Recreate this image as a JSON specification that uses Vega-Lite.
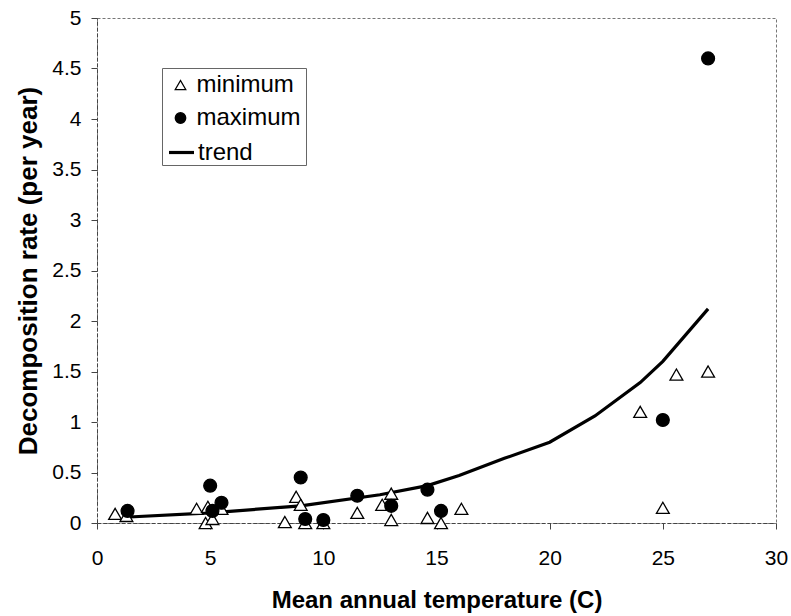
{
  "$schema": "https://vega.github.io/schema/vega-lite/v6.json",
  "width": 679,
  "height": 505,
  "autosize": "none",
  "padding": {"left": 97, "top": 18, "right": 15, "bottom": 93},
  "background": "white",
  "config": {
    "font": "Liberation Sans",
    "view": {"stroke": "#777", "strokeDash": [3, 2], "strokeWidth": 1}
  },
  "data": {
    "values": [
      {"temp": 0.8, "rate": 0.09, "series": "minimum"},
      {"temp": 1.3, "rate": 0.07, "series": "minimum"},
      {"temp": 4.4, "rate": 0.14, "series": "minimum"},
      {"temp": 4.8, "rate": 0.0, "series": "minimum"},
      {"temp": 4.9, "rate": 0.16, "series": "minimum"},
      {"temp": 5.1, "rate": 0.04, "series": "minimum"},
      {"temp": 5.5, "rate": 0.14, "series": "minimum"},
      {"temp": 8.3, "rate": 0.01, "series": "minimum"},
      {"temp": 8.8, "rate": 0.26, "series": "minimum"},
      {"temp": 9.0, "rate": 0.18, "series": "minimum"},
      {"temp": 9.2, "rate": 0.0, "series": "minimum"},
      {"temp": 10.0, "rate": 0.0, "series": "minimum"},
      {"temp": 11.5, "rate": 0.1, "series": "minimum"},
      {"temp": 12.6, "rate": 0.18, "series": "minimum"},
      {"temp": 13.0, "rate": 0.29, "series": "minimum"},
      {"temp": 13.0, "rate": 0.03, "series": "minimum"},
      {"temp": 14.6, "rate": 0.05, "series": "minimum"},
      {"temp": 15.2, "rate": 0.0, "series": "minimum"},
      {"temp": 16.1, "rate": 0.14, "series": "minimum"},
      {"temp": 24.0, "rate": 1.1, "series": "minimum"},
      {"temp": 25.0, "rate": 0.15, "series": "minimum"},
      {"temp": 25.6, "rate": 1.47, "series": "minimum"},
      {"temp": 27.0, "rate": 1.5, "series": "minimum"},
      {"temp": 1.35, "rate": 0.12, "series": "maximum"},
      {"temp": 5.0, "rate": 0.37, "series": "maximum"},
      {"temp": 5.1, "rate": 0.12, "series": "maximum"},
      {"temp": 5.5, "rate": 0.2, "series": "maximum"},
      {"temp": 9.0, "rate": 0.45, "series": "maximum"},
      {"temp": 9.2, "rate": 0.04, "series": "maximum"},
      {"temp": 10.0, "rate": 0.03, "series": "maximum"},
      {"temp": 11.5, "rate": 0.27, "series": "maximum"},
      {"temp": 13.0, "rate": 0.17, "series": "maximum"},
      {"temp": 14.6, "rate": 0.33, "series": "maximum"},
      {"temp": 15.2, "rate": 0.12, "series": "maximum"},
      {"temp": 25.0, "rate": 1.02, "series": "maximum"},
      {"temp": 27.0, "rate": 4.6, "series": "maximum"},
      {"temp": 1.2, "rate": 0.057, "series": "trend"},
      {"temp": 5.0, "rate": 0.1, "series": "trend"},
      {"temp": 9.0, "rate": 0.17, "series": "trend"},
      {"temp": 12.5, "rate": 0.28, "series": "trend"},
      {"temp": 14.6, "rate": 0.37, "series": "trend"},
      {"temp": 16.0, "rate": 0.47, "series": "trend"},
      {"temp": 18.0, "rate": 0.64, "series": "trend"},
      {"temp": 20.0, "rate": 0.8, "series": "trend"},
      {"temp": 22.0, "rate": 1.06, "series": "trend"},
      {"temp": 24.0, "rate": 1.39, "series": "trend"},
      {"temp": 25.0, "rate": 1.6, "series": "trend"},
      {"temp": 27.0, "rate": 2.12, "series": "trend"}
    ]
  },
  "encoding": {
    "x": {
      "field": "temp",
      "type": "quantitative",
      "scale": {"domain": [0, 30], "nice": false, "zero": false},
      "axis": {
        "title": "Mean annual temperature (C)",
        "values": [0, 5, 10, 15, 20, 25, 30],
        "grid": false,
        "labelFontSize": 21,
        "labelColor": "black",
        "labelFlush": false,
        "labelOverlap": false,
        "labelPadding": 18,
        "tickSize": 6,
        "tickColor": "#444",
        "domainColor": "#444",
        "domainDash": [4, 2],
        "titleFontSize": 24,
        "titleFontWeight": "bold",
        "titleColor": "black",
        "titleY": 84,
        "titleBaseline": "alphabetic"
      }
    },
    "y": {
      "field": "rate",
      "type": "quantitative",
      "scale": {"domain": [0, 5], "nice": false},
      "axis": {
        "title": "Decomposition rate (per year)",
        "values": [0, 0.5, 1, 1.5, 2, 2.5, 3, 3.5, 4, 4.5, 5],
        "labelExpr": "datum.value + ''",
        "grid": false,
        "labelFontSize": 21,
        "labelColor": "black",
        "labelFlush": false,
        "labelOverlap": false,
        "labelPadding": 10,
        "tickSize": 6,
        "tickColor": "#444",
        "domainColor": "#444",
        "domainDash": [4, 2],
        "titleFontSize": 26,
        "titleFontWeight": "bold",
        "titleColor": "black",
        "titleX": -69,
        "titleBaseline": "middle"
      }
    }
  },
  "layer": [
    {
      "transform": [{"filter": "datum.series === 'trend'"}],
      "mark": {"type": "line", "color": "black", "strokeWidth": 3.2},
      "encoding": {
        "opacity": {
          "field": "series",
          "type": "nominal",
          "scale": {"domain": ["trend"], "range": [1]},
          "legend": {
            "orient": "none",
            "legendX": 65,
            "legendY": 115,
            "title": null,
            "direction": "vertical",
            "strokeColor": null,
            "fillColor": null,
            "padding": 5,
            "symbolType": "stroke",
            "symbolSize": 625,
            "symbolStrokeWidth": 3.2,
            "symbolStrokeColor": "black",
            "labelFontSize": 24,
            "labelColor": "black",
            "labelOffset": 2
          }
        }
      }
    },
    {
      "transform": [{"filter": "datum.series !== 'trend'"}],
      "mark": {"type": "point", "filled": true, "opacity": 1, "strokeWidth": 1.3, "size": 165},
      "encoding": {
        "shape": {
          "field": "series",
          "type": "nominal",
          "scale": {"domain": ["minimum", "maximum"], "range": ["triangle-up", "circle"]},
          "legend": {
            "orient": "none",
            "legendX": 65,
            "legendY": 50,
            "title": "\u00a0",
            "titleOrient": "bottom",
            "titleFontSize": 26,
            "titlePadding": 4,
            "direction": "vertical",
            "fillColor": null,
            "strokeColor": "#666",
            "padding": 5,
            "rowPadding": 9,
            "symbolSize": 110,
            "symbolStrokeWidth": 1.3,
            "labelFontSize": 24,
            "labelColor": "black",
            "labelOffset": 4,
            "symbolOffset": 1.5
          }
        },
        "fill": {
          "field": "series",
          "type": "nominal",
          "scale": {"domain": ["minimum", "maximum"], "range": ["white", "black"]}
        },
        "stroke": {
          "field": "series",
          "type": "nominal",
          "scale": {"domain": ["minimum", "maximum"], "range": ["black", "black"]}
        }
      }
    }
  ]
}
